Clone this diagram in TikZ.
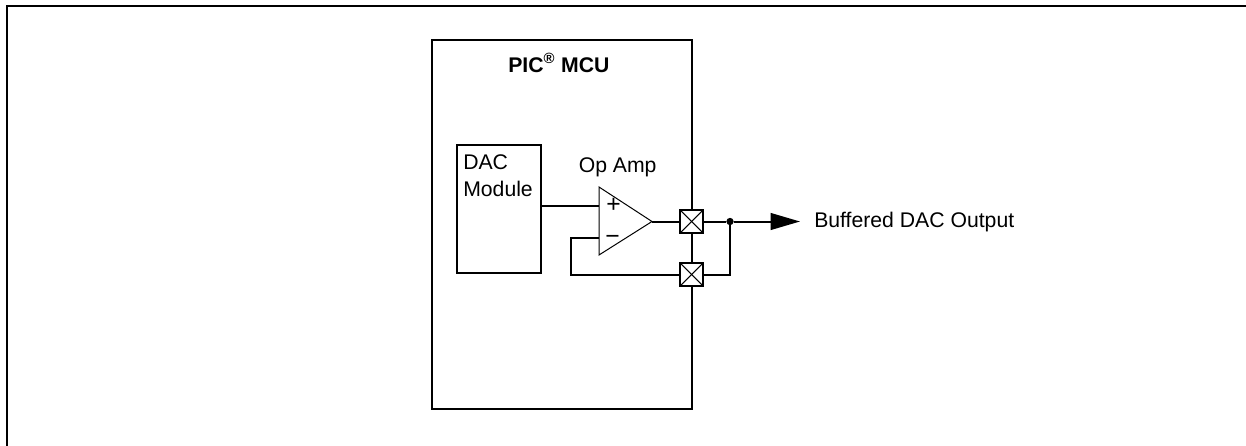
\documentclass[tikz,border=0pt]{standalone}
\usepackage{fontspec}
\setmainfont{Liberation Sans}
\usetikzlibrary{positioning}
\usetikzlibrary{arrows.meta}
\tikzset{
	block/.style={draw, rectangle, inner sep=0, outer sep=0, line width=1.5pt},
	padbox/.style={block, fill=white, minimum width=17.25pt, minimum height=17.25pt,
		path picture={
			\draw[line width=.8pt] (path picture bounding box.north west) -- (path picture bounding box.south east);
			\draw[line width=.8pt] (path picture bounding box.south west) -- (path picture bounding box.north east);
		}},
	sig/.style={line width=1.5pt},
	lbl/.style={inner sep=0, anchor=base west, font=\fontsize{15.9pt}{18pt}\selectfont},
	signlbl/.style={lbl, font=\fontsize{18.5pt}{20pt}\selectfont},
}
\begin{document}
\begin{tikzpicture}[x=.75pt, y=-.75pt]
	\useasboundingbox (0,0) rectangle (1246,446);
	\node[shape=coordinate] (framebl) at (7,446) {};
	\node[shape=coordinate] (frametl) at (7,6) {};
	\node[shape=coordinate] (frametr) at (1246,6) {};
	\draw[line width=1.5pt] (framebl) -- (frametl) -- (frametr);

	\node[block, minimum width=195pt, minimum height=277pt] (mcu) at (562,224.5) {};
	\node[block, minimum width=63pt, minimum height=95.5pt] (dac) at (498.7,209) {};

	\node[shape=coordinate] (optop) at (599,187) {};
	\node[shape=coordinate] (opbot) at (599,255) {};
	\node[shape=coordinate] (opout) at (652,221.5) {};
	\node[shape=coordinate] (oppos) at (599,205.5) {};
	\node[shape=coordinate] (opneg) at (599,238) {};
	\draw[line width=.75pt, line join=miter] (optop) -- (opout) -- (opbot) -- cycle;

	\node[padbox] (padout) at (691.5,221.5) {};
	\node[padbox] (padfb) at (691.5,274.5) {};
	\node[shape=coordinate] (fbcorner) at (571,274.5) {};
	\node[circle, fill, inner sep=0, minimum size=5.5pt] (tap) at (730,221.5) {};
	\node[shape=coordinate] (outtip) at (800,221.5) {};

	\draw[sig] (dac.east |- oppos) -- (oppos);
	\draw[sig] (opneg) -| (fbcorner) -- (padfb.west);
	\draw[sig] (opout) -- (padout.west);
	\draw[sig] (padout.east) -- (tap);
	\draw[sig] (padfb.east) -| (tap);
	\draw[sig, -{Triangle[length=22pt, width=12.5pt]}] (tap) -- (outtip);

	\node[lbl, font=\fontsize{15.9pt}{18pt}\selectfont\bfseries] (mcutitle) at (508,72) {PIC\textsuperscript{\textregistered} MCU};
	\node[lbl] (daclbl) at (463,169) {DAC};
	\node[lbl] (modlbl) at (463,196) {Module};
	\node[lbl] (oplbl) at (578.5,172) {Op Amp};
	\node[signlbl] (pluslbl) at (606,212) {+};
	\node[signlbl] (minuslbl) at (605,244) {−};
	\node[lbl] (outlbl) at (814,227) {Buffered DAC Output};
\end{tikzpicture}
\end{document}
